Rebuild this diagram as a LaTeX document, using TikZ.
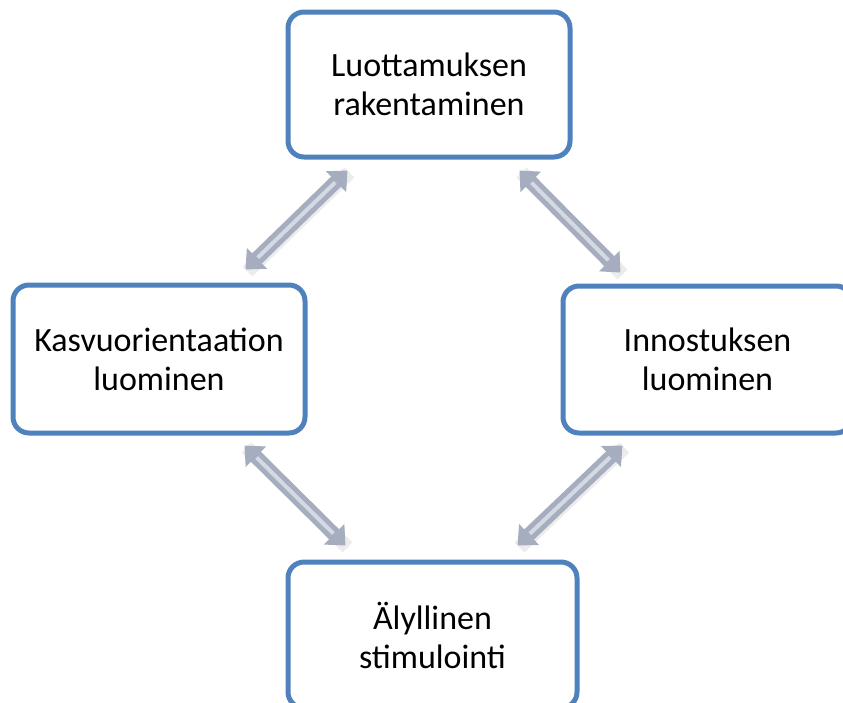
\documentclass[tikz,border=0pt]{standalone}
\usepackage{fontspec}
\setmainfont{Carlito}
\usetikzlibrary{arrows.meta}
\definecolor{boxblue}{RGB}{79,129,189}
\definecolor{linkgray}{RGB}{165,173,190}
\definecolor{linklight}{RGB}{212,217,227}
\begin{document}
\begin{tikzpicture}[x=1pt,y=1pt,
    box node/.style={draw=boxblue,line width=5pt,fill=white,rounded corners=16pt,
                     inner sep=0pt,align=center,
                     font={\fontsize{34pt}{39pt}\selectfont}},
    link/.style={draw=linkgray,line width=14pt,
                 {Triangle[width=28pt,length=16pt]}-{Triangle[width=28pt,length=16pt]},
                 preaction={draw=black!30,opacity=0.25,line width=14pt,-,
                            transform canvas={xshift=2pt,yshift=-2pt}},
                 postaction={draw=linklight,line width=4pt,-,
                             shorten >=17pt,shorten <=17pt}}]
  \clip (0,0) rectangle (843,-702);

  \node[box node,minimum width=282pt,minimum height=145pt] (trust) at (429,-84.5)
       {Luottamuksen\\rakentaminen};
  \node[box node,minimum width=292pt,minimum height=148pt] (growth) at (159,-359)
       {Kasvuorientaation\\luominen};
  \node[box node,minimum width=289pt,minimum height=147pt] (inspire) at (707.5,-359.5)
       {Innostuksen\\luominen};
  \node[box node,minimum width=289pt,minimum height=146pt] (stimul) at (432.5,-635)
       {Älyllinen\\stimulointi};

  % double arrows between the boxes
  \draw[link] ([xshift=62pt,yshift=-11pt]trust.south west)
           -- ([xshift=-62pt,yshift=13pt]growth.north east);
  \draw[link] ([xshift=-53pt,yshift=-11pt]trust.south east)
           -- ([xshift=60pt,yshift=11pt]inspire.north west);
  \draw[link] ([xshift=-63pt,yshift=-10pt]growth.south east)
           -- ([xshift=60pt,yshift=14pt]stimul.north west);
  \draw[link] ([xshift=62pt,yshift=-10pt]inspire.south west)
           -- ([xshift=-62pt,yshift=14pt]stimul.north east);
\end{tikzpicture}
\end{document}
